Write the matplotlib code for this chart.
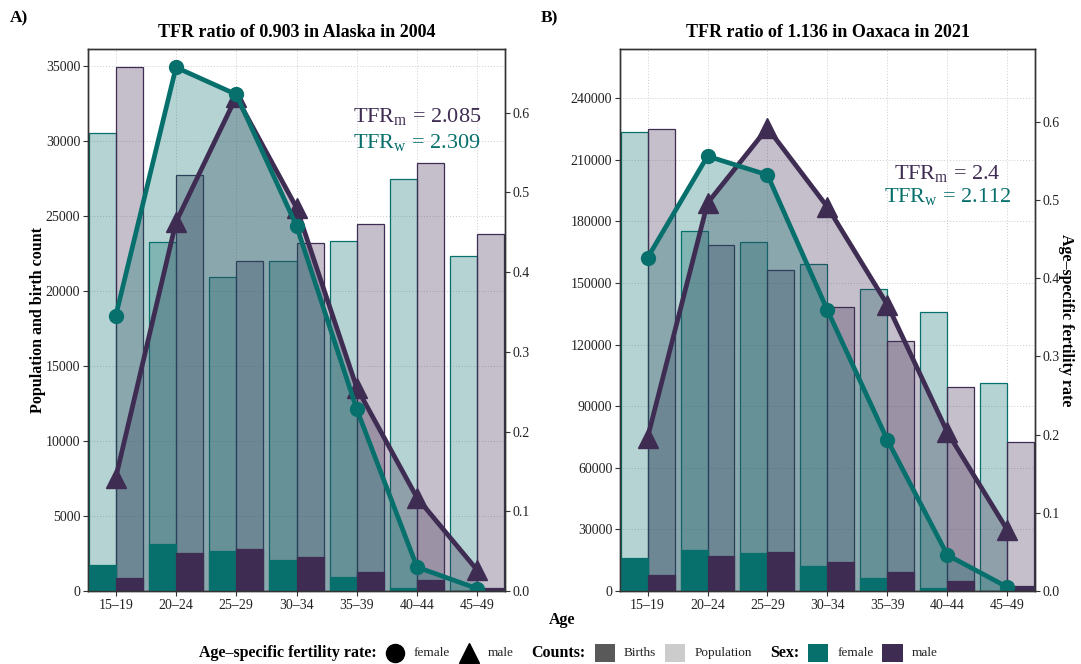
import numpy as np
import matplotlib
matplotlib.use("Agg")
import matplotlib.pyplot as plt
import matplotlib.transforms as mtransforms
from matplotlib.colors import to_rgba
from matplotlib.lines import Line2D
from matplotlib.patches import Rectangle
from matplotlib.offsetbox import HPacker, TextArea, DrawingArea, AnchoredOffsetbox

plt.rcParams["font.family"] = ["Liberation Serif", "DejaVu Serif"]
plt.rcParams["mathtext.fontset"] = "custom"
plt.rcParams["mathtext.rm"] = "Liberation Serif"
plt.rcParams["mathtext.it"] = "Liberation Serif:italic"
plt.rcParams["mathtext.bf"] = "Liberation Serif:bold"

# ---------------- data ----------------
ages = ["15–19", "20–24", "25–29", "30–34", "35–39", "40–44", "45–49"]

# Panel A: Alaska 2004
a_pop_f = [30500, 23250, 20900, 21950, 23300, 27450, 22300]
a_pop_m = [34870, 27680, 22000, 23200, 24450, 28500, 23800]
a_birth_f = [1720, 3100, 2650, 2050, 950, 180, 10]
a_birth_m = [880, 2560, 2780, 2250, 1280, 720, 180]
a_asfr_f = [0.345, 0.657, 0.623, 0.458, 0.228, 0.030, 0.003]
a_asfr_m = [0.142, 0.463, 0.620, 0.481, 0.255, 0.117, 0.026]
a_title = "TFR ratio of 0.903 in Alaska in 2004"
a_tfr_m = "2.085"
a_tfr_w = "2.309"

# Panel B: Oaxaca 2021
b_pop_f = [223400, 175300, 169800, 159200, 146900, 136000, 101300]
b_pop_m = [224800, 168500, 156300, 138400, 121800, 99500, 72500]
b_birth_f = [16300, 19800, 18500, 12200, 6400, 1700, 250]
b_birth_m = [7700, 17000, 19000, 14100, 9300, 5000, 2300]
b_asfr_f = [0.426, 0.556, 0.532, 0.359, 0.193, 0.046, 0.005]
b_asfr_m = [0.196, 0.496, 0.592, 0.491, 0.366, 0.203, 0.078]
b_title = "TFR ratio of 1.136 in Oaxaca in 2021"
b_tfr_m = "2.4"
b_tfr_w = "2.112"

FEM = "#08706c"
MAL = "#3e2c53"
SPINE = "#333333"

fig = plt.figure(figsize=(10.81, 6.64), dpi=100)
axA = fig.add_axes([0.0814, 0.1099, 0.3858, 0.8163])
axB = fig.add_axes([0.5735, 0.1099, 0.3839, 0.8163])


def style(ax):
    for s in ax.spines.values():
        s.set_color(SPINE)
        s.set_linewidth(1.0)
    ax.tick_params(direction="out", length=3.5, width=0.8, color=SPINE,
                   labelsize=10, labelcolor="#222222", pad=2)


def panel(ax, pop_f, pop_m, bir_f, bir_m, asfr_f, asfr_m, ytop, ystep, rtop,
          title, tfr_m, tfr_w, ypos_m, ypos_w):
    x = np.arange(len(ages))
    w = 0.45
    ax2 = ax.twinx()
    ax2.set_ylim(0, rtop)
    ax.set_ylim(0, ytop)
    ax.set_xlim(-0.46, 6.46)
    # population bars (light)
    ax.bar(x - w / 2, pop_f, w, color=to_rgba(FEM, 0.3), edgecolor=FEM, lw=0.9, zorder=2)
    ax.bar(x + w / 2, pop_m, w, color=to_rgba(MAL, 0.3), edgecolor=MAL, lw=0.9, zorder=2)
    # shaded areas under the rate curves (rate scale on the right axis)
    rate_tr = mtransforms.blended_transform_factory(ax.transData, ax2.transData)
    ax.fill_between(x, 0, asfr_m, color=MAL, alpha=0.3, lw=0, zorder=2.5, transform=rate_tr)
    ax.fill_between(x, 0, asfr_f, color=FEM, alpha=0.3, lw=0, zorder=2.5, transform=rate_tr)
    # births bars (solid)
    ax.bar(x - w / 2, bir_f, w, color=FEM, edgecolor=FEM, lw=0.9, zorder=3)
    ax.bar(x + w / 2, bir_m, w, color=MAL, edgecolor=MAL, lw=0.9, zorder=3)
    ax.set_ylim(0, ytop)
    ax.set_xlim(-0.46, 6.46)
    ax.set_yticks(np.arange(0, ytop, ystep))
    ax.set_xticks(x)
    ax.set_xticklabels(ages)
    ax.grid(True, linestyle=(0, (1, 2)), color="#cccccc", lw=0.7)
    ax.set_axisbelow(True)
    style(ax)
    ax.set_title(title, fontsize=13, fontweight="bold", pad=9)

    ax2.plot(x, asfr_m, color=MAL, lw=3.4, marker="^", ms=14, solid_joinstyle="miter")
    ax2.plot(x, asfr_f, color=FEM, lw=3.4, marker="o", ms=10)
    ax2.set_ylim(0, rtop)
    ax2.set_yticks(np.arange(0, 0.61, 0.1))
    ax2.set_yticklabels([f"{v:.1f}" for v in np.arange(0, 0.61, 0.1)])
    style(ax2)

    tr = mtransforms.blended_transform_factory(ax.transData, ax.transAxes)
    ax2.text(5, ypos_m, "TFR$_{\\mathrm{m}}$ = " + tfr_m, transform=tr, ha="center",
             va="center", fontsize=16, color=MAL)
    ax2.text(5, ypos_w, "TFR$_{\\mathrm{w}}$ = " + tfr_w, transform=tr, ha="center",
             va="center", fontsize=16, color=FEM)
    return ax2


panel(axA, a_pop_f, a_pop_m, a_birth_f, a_birth_m, a_asfr_f, a_asfr_m,
      36100, 5000, 0.680, a_title, a_tfr_m, a_tfr_w, 0.875, 0.827)
axB2 = panel(axB, b_pop_f, b_pop_m, b_birth_f, b_birth_m, b_asfr_f, b_asfr_m,
             264000, 30000, 0.693, b_title, b_tfr_m, b_tfr_w, 0.771, 0.727)

axA.set_ylabel("Population and birth count", fontsize=11.5, fontweight="bold", labelpad=0)
axB2.set_ylabel("Age–specific fertility rate", fontsize=11.5, fontweight="bold",
                rotation=270, labelpad=10)
fig.text(0.52, 0.066, "Age", ha="center", va="center", fontsize=11.5, fontweight="bold")
fig.text(0.009, 0.972, "A)", ha="left", va="center", fontsize=12.5, fontweight="bold")
fig.text(0.500, 0.972, "B)", ha="left", va="center", fontsize=12.5, fontweight="bold")


# ---------------- legend ----------------
GAP = 6.5  # points


def title_ta(s):
    return TextArea(s, textprops=dict(fontsize=11.5, fontweight="bold", color="black"))


def label_ta(s):
    return TextArea(s, textprops=dict(fontsize=9.5, color="#222222"))


def marker_da(marker, ms):
    da = DrawingArea(14, 13, 0, 0)
    da.add_artist(Line2D([7], [6.5], marker=marker, markersize=ms, color="black", linestyle="none"))
    return da


def square_da(color):
    da = DrawingArea(14.5, 13, 0, 0)
    da.add_artist(Rectangle((0, 0), 14.5, 13, facecolor=color, edgecolor="none"))
    return da


def spacer(wpt):
    return DrawingArea(wpt, 1, 0, 0)


children = [
    title_ta("Age–specific fertility rate:"),
    marker_da("o", 13), label_ta("female"),
    marker_da("^", 14), label_ta("male"),
    spacer(0), title_ta("Counts:"),
    square_da("#595959"), label_ta("Births"),
    square_da("#cccccc"), label_ta("Population"),
    spacer(0), title_ta("Sex:"),
    square_da(FEM), label_ta("female"),
    square_da(MAL), label_ta("male"),
]
pack = HPacker(children=children, sep=GAP, align="center", pad=0)
anch = AnchoredOffsetbox(loc="center", child=pack, pad=0, frameon=False,
                         bbox_to_anchor=(0.5255, 0.0166), bbox_transform=fig.transFigure,
                         borderpad=0)
fig.add_artist(anch)

fig.savefig("out.png", dpi=100)
